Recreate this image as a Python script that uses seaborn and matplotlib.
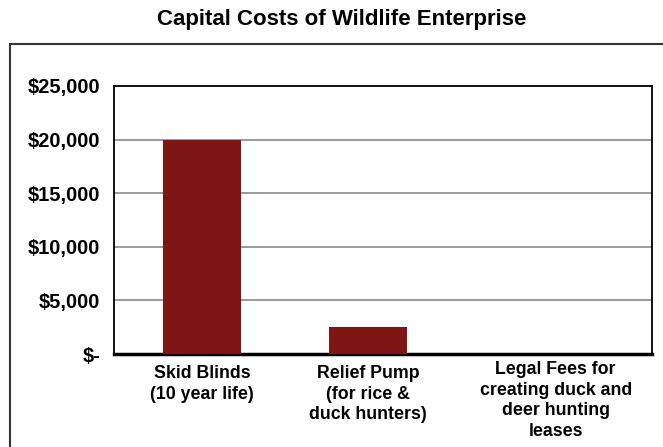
import matplotlib
matplotlib.use("Agg")
import matplotlib.pyplot as plt
import seaborn as sns
import pandas as pd
from matplotlib.patches import Rectangle

categories = ["Skid Blinds\n(10 year life)", "Relief Pump\n(for rice &\nduck hunters)",
              "Legal Fees for\ncreating duck and\ndeer hunting\nleases"]
costs = [20000, 2500, 0]
yticks = [0, 5000, 10000, 15000, 20000, 25000]
ytick_labels = ["$-", "$5,000", "$10,000", "$15,000", "$20,000", "$25,000"]
title = "Capital Costs of Wildlife Enterprise"

sns.set_theme(style="white")
plt.rcParams["font.family"] = ["Liberation Sans", "DejaVu Sans"]
plt.rcParams["text.color"] = "black"

df = pd.DataFrame({"cat": categories, "cost": costs})

fig = plt.figure(figsize=(6.63, 4.47), dpi=100)
W, H = 663, 447
ax = fig.add_axes([114 / W, 1 - 354 / H, (652 - 114) / W, (354 - 86) / H])

sns.barplot(data=df, x="cat", y="cost", color="#7d1614", width=0.47, ax=ax,
            saturation=1, zorder=3, linewidth=0)
ax.set_xlim(-0.53, 2.71)
ax.set_ylim(0, 25000)
ax.set_yticks(yticks)
ax.set_yticklabels(ytick_labels, fontsize=14.5, fontweight="bold", color="black")
ax.yaxis.grid(True, color="#8a8a8a", lw=1.2, zorder=0)
ax.set_xticks([0, 1, 2.13])
ax.set_xticklabels(categories, fontsize=12.8, fontweight="bold", linespacing=1.28,
                   color="black")
ax.tick_params(axis="y", length=0, pad=10)
ax.tick_params(axis="x", length=0, pad=8)
for lab in ax.get_xticklabels()[2:]:
    lab.set_y(0.015)
ax.set_xlabel("")
ax.set_ylabel("")
for s in ax.spines.values():
    s.set_visible(True)
    s.set_color("black")
    s.set_linewidth(1.3)
ax.spines["bottom"].set_linewidth(2.5)

# outer frame
fig.patches.append(Rectangle((10 / W, -0.1), 1.2, 1.1 - 44 / H, transform=fig.transFigure,
                             fill=False, edgecolor="#333333", lw=1.5))

fig.text(342 / W, 1 - 20 / H, title, ha="center", va="center", fontsize=16,
         fontweight="bold", color="black")

fig.savefig("out.png", dpi=100)
